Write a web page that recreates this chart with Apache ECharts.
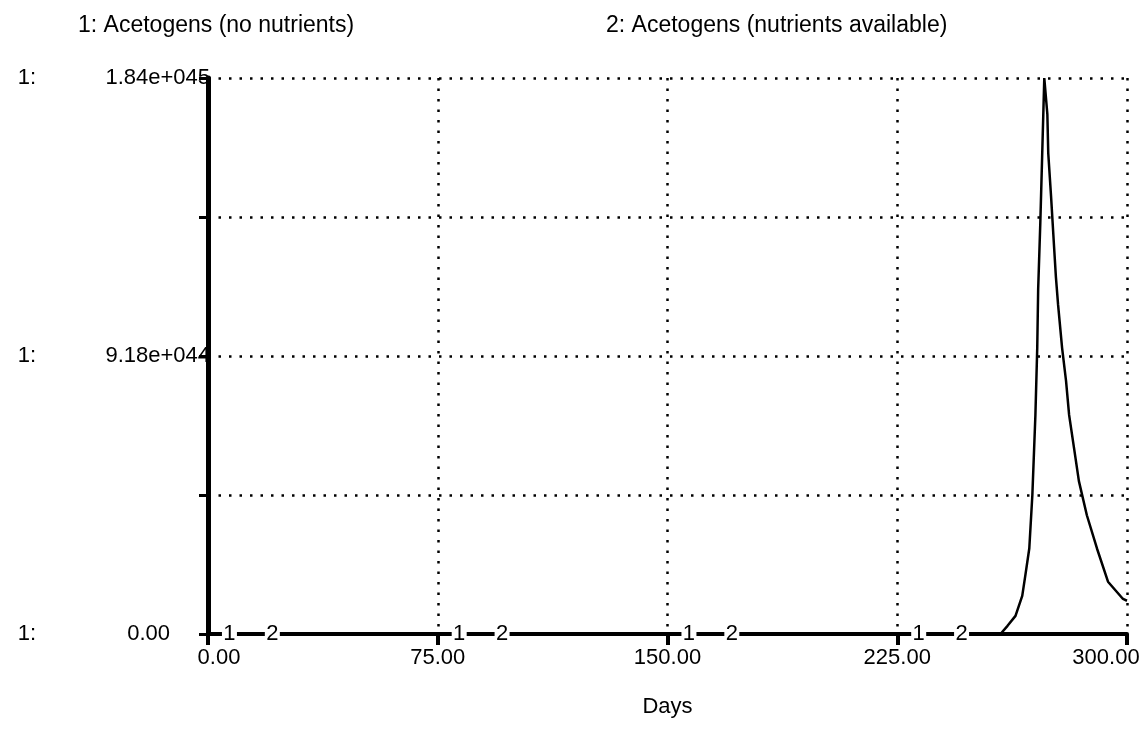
<!DOCTYPE html>
<html>
<head>
<meta charset="utf-8">
<script src="https://cdn.jsdelivr.net/npm/echarts@6/dist/echarts.min.js"></script>
<style>
html,body{margin:0;padding:0;background:#fff;overflow:hidden;width:1143px;height:730px;}
#c{width:1143px;height:730px;}
</style>
</head>
<body>
<div id="c"></div>
<script>
// ---- data ----
const seriesNames = ['Acetogens (no nutrients)', 'Acetogens (nutrients available)'];
const xTickLabels = ['0.00', '75.00', '150.00', '225.00', '300.00'];
const yTickLabels = ['0.00', '', '9.18e+044', '', '1.84e+045'];
const yMax = 1.84e45;
const xMax = 300;
// series 1: stays at zero over the whole run
const s1Days = [0, 75, 150, 225, 300];
const s1Vals = [0, 0, 0, 0, 0];
// series 2: zero, then a sharp bloom near day 273
const s2Days = [0, 75, 150, 225, 255, 258.7, 261, 263.6, 265.8, 266.8, 268.1, 269.1, 270.1, 270.7, 271.0, 271.7, 272.3, 273.0, 274.0, 274.3, 275.2, 276.2, 276.8, 277.5, 278.8, 280.1, 281.1, 282.7, 284.3, 286.9, 290.2, 293.8, 298.7, 300];
const s2Vals = [0, 0, 0, 0, 0, 0, 0.27e44, 0.60e44, 1.26e44, 1.93e44, 2.83e44, 4.59e44, 7.25e44, 9.48e44, 11.4e44, 13.6e44, 15.8e44, 18.4e44, 17.2e44, 15.9e44, 14.5e44, 12.8e44, 11.8e44, 10.9e44, 9.48e44, 8.38e44, 7.25e44, 6.16e44, 5.06e44, 3.93e44, 2.83e44, 1.73e44, 1.16e44, 1.10e44];
// curve-number markers placed along the lines
const marker1Days = [7, 82, 157, 232];
const marker2Days = [21, 96, 171, 246];

const FONT = 'Liberation Sans, Arial, sans-serif';
const chart = echarts.init(document.getElementById('c'), null, { width: 1143, height: 730 });

function zip(a, b) { return a.map((v, i) => [v, b[i]]); }
function markers(days, txt) {
  return {
    symbol: 'rect',
    symbolSize: [15, 22],
    itemStyle: { color: '#fff' },
    label: { show: true, position: 'inside', formatter: txt, color: '#000', fontSize: 22, fontFamily: FONT },
    data: days.map(d => ({ coord: [d, 0] }))
  };
}
const TXT = { fontSize: 22, fontFamily: FONT, color: '#000' };

const option = {
  backgroundColor: '#fff',
  animation: false,
  legend: [
    { data: [seriesNames[0]], left: 68, top: 9, icon: 'none', itemWidth: 0, itemGap: 0,
      formatter: n => '1: ' + n, textStyle: { fontSize: 23, fontFamily: FONT, color: '#000' } },
    { data: [seriesNames[1]], left: 596, top: 9, icon: 'none', itemWidth: 0, itemGap: 0,
      formatter: n => '2: ' + n, textStyle: { fontSize: 23, fontFamily: FONT, color: '#000' } }
  ],
  grid: { left: 208, right: 16, top: 78, bottom: 96, containLabel: false, outerBoundsMode: 'none' },
  xAxis: {
    type: 'value', min: 0, max: xMax, interval: 75,
    name: 'Days', nameLocation: 'middle', nameGap: 62,
    nameTextStyle: TXT,
    axisLine: { lineStyle: { color: '#000', width: 4 } },
    axisTick: { show: true, length: 11, lineStyle: { color: '#000', width: 4 } },
    axisLabel: { fontSize: 22, fontFamily: FONT, color: '#000', margin: 13,
      formatter: (v) => {
        const i = Math.round(v / 75);
        if (i === 0) return '{f|' + xTickLabels[i] + '}';
        if (i === xTickLabels.length - 1) return '{l|' + xTickLabels[i] + '}';
        return xTickLabels[i];
      },
      rich: { f: Object.assign({ padding: [0, 0, 0, 22] }, TXT), l: Object.assign({ padding: [0, 42, 0, 0] }, TXT) } },
    splitLine: { show: true, lineStyle: { color: '#000', width: 2.5, type: [2.5, 8] } }
  },
  yAxis: [
    {
      type: 'value', min: 0, max: yMax, interval: yMax / 4,
      axisLine: { show: true, lineStyle: { color: '#000', width: 5 } },
      axisTick: { show: true, length: 9, lineStyle: { color: '#000', width: 3 } },
      axisLabel: { fontSize: 22, fontFamily: FONT, color: '#000', margin: -2,
        formatter: (v) => { const i = Math.round(v / (yMax / 4)); return i === 0 ? '{z|' + yTickLabels[0] + '}' : yTickLabels[i]; },
        rich: { z: Object.assign({ padding: [0, 40, 0, 0] }, TXT) } },
      splitLine: { show: true, lineStyle: { color: '#000', width: 2.5, type: [2.5, 8] } }
    },
    {
      type: 'value', min: 0, max: yMax, interval: yMax / 4, position: 'left',
      axisLine: { show: false }, axisTick: { show: false }, splitLine: { show: false },
      axisLabel: { fontSize: 22, fontFamily: FONT, color: '#000', margin: 172,
        formatter: (v) => { const i = Math.round(v / (yMax / 4)); return (i % 2 === 0) ? '1:' : ''; } }
    }
  ],
  series: [
    {
      name: seriesNames[0], type: 'line', yAxisIndex: 0, data: zip(s1Days, s1Vals),
      showSymbol: false, lineStyle: { color: '#000', width: 3 }, itemStyle: { color: '#000' },
      markPoint: markers(marker1Days, '1'), z: 3
    },
    {
      name: seriesNames[1], type: 'line', yAxisIndex: 0, data: zip(s2Days, s2Vals),
      showSymbol: false, lineStyle: { color: '#000', width: 2.5 }, itemStyle: { color: '#000' },
      markPoint: markers(marker2Days, '2'), z: 3
    }
  ]
};
chart.setOption(option);
</script>
</body>
</html>
